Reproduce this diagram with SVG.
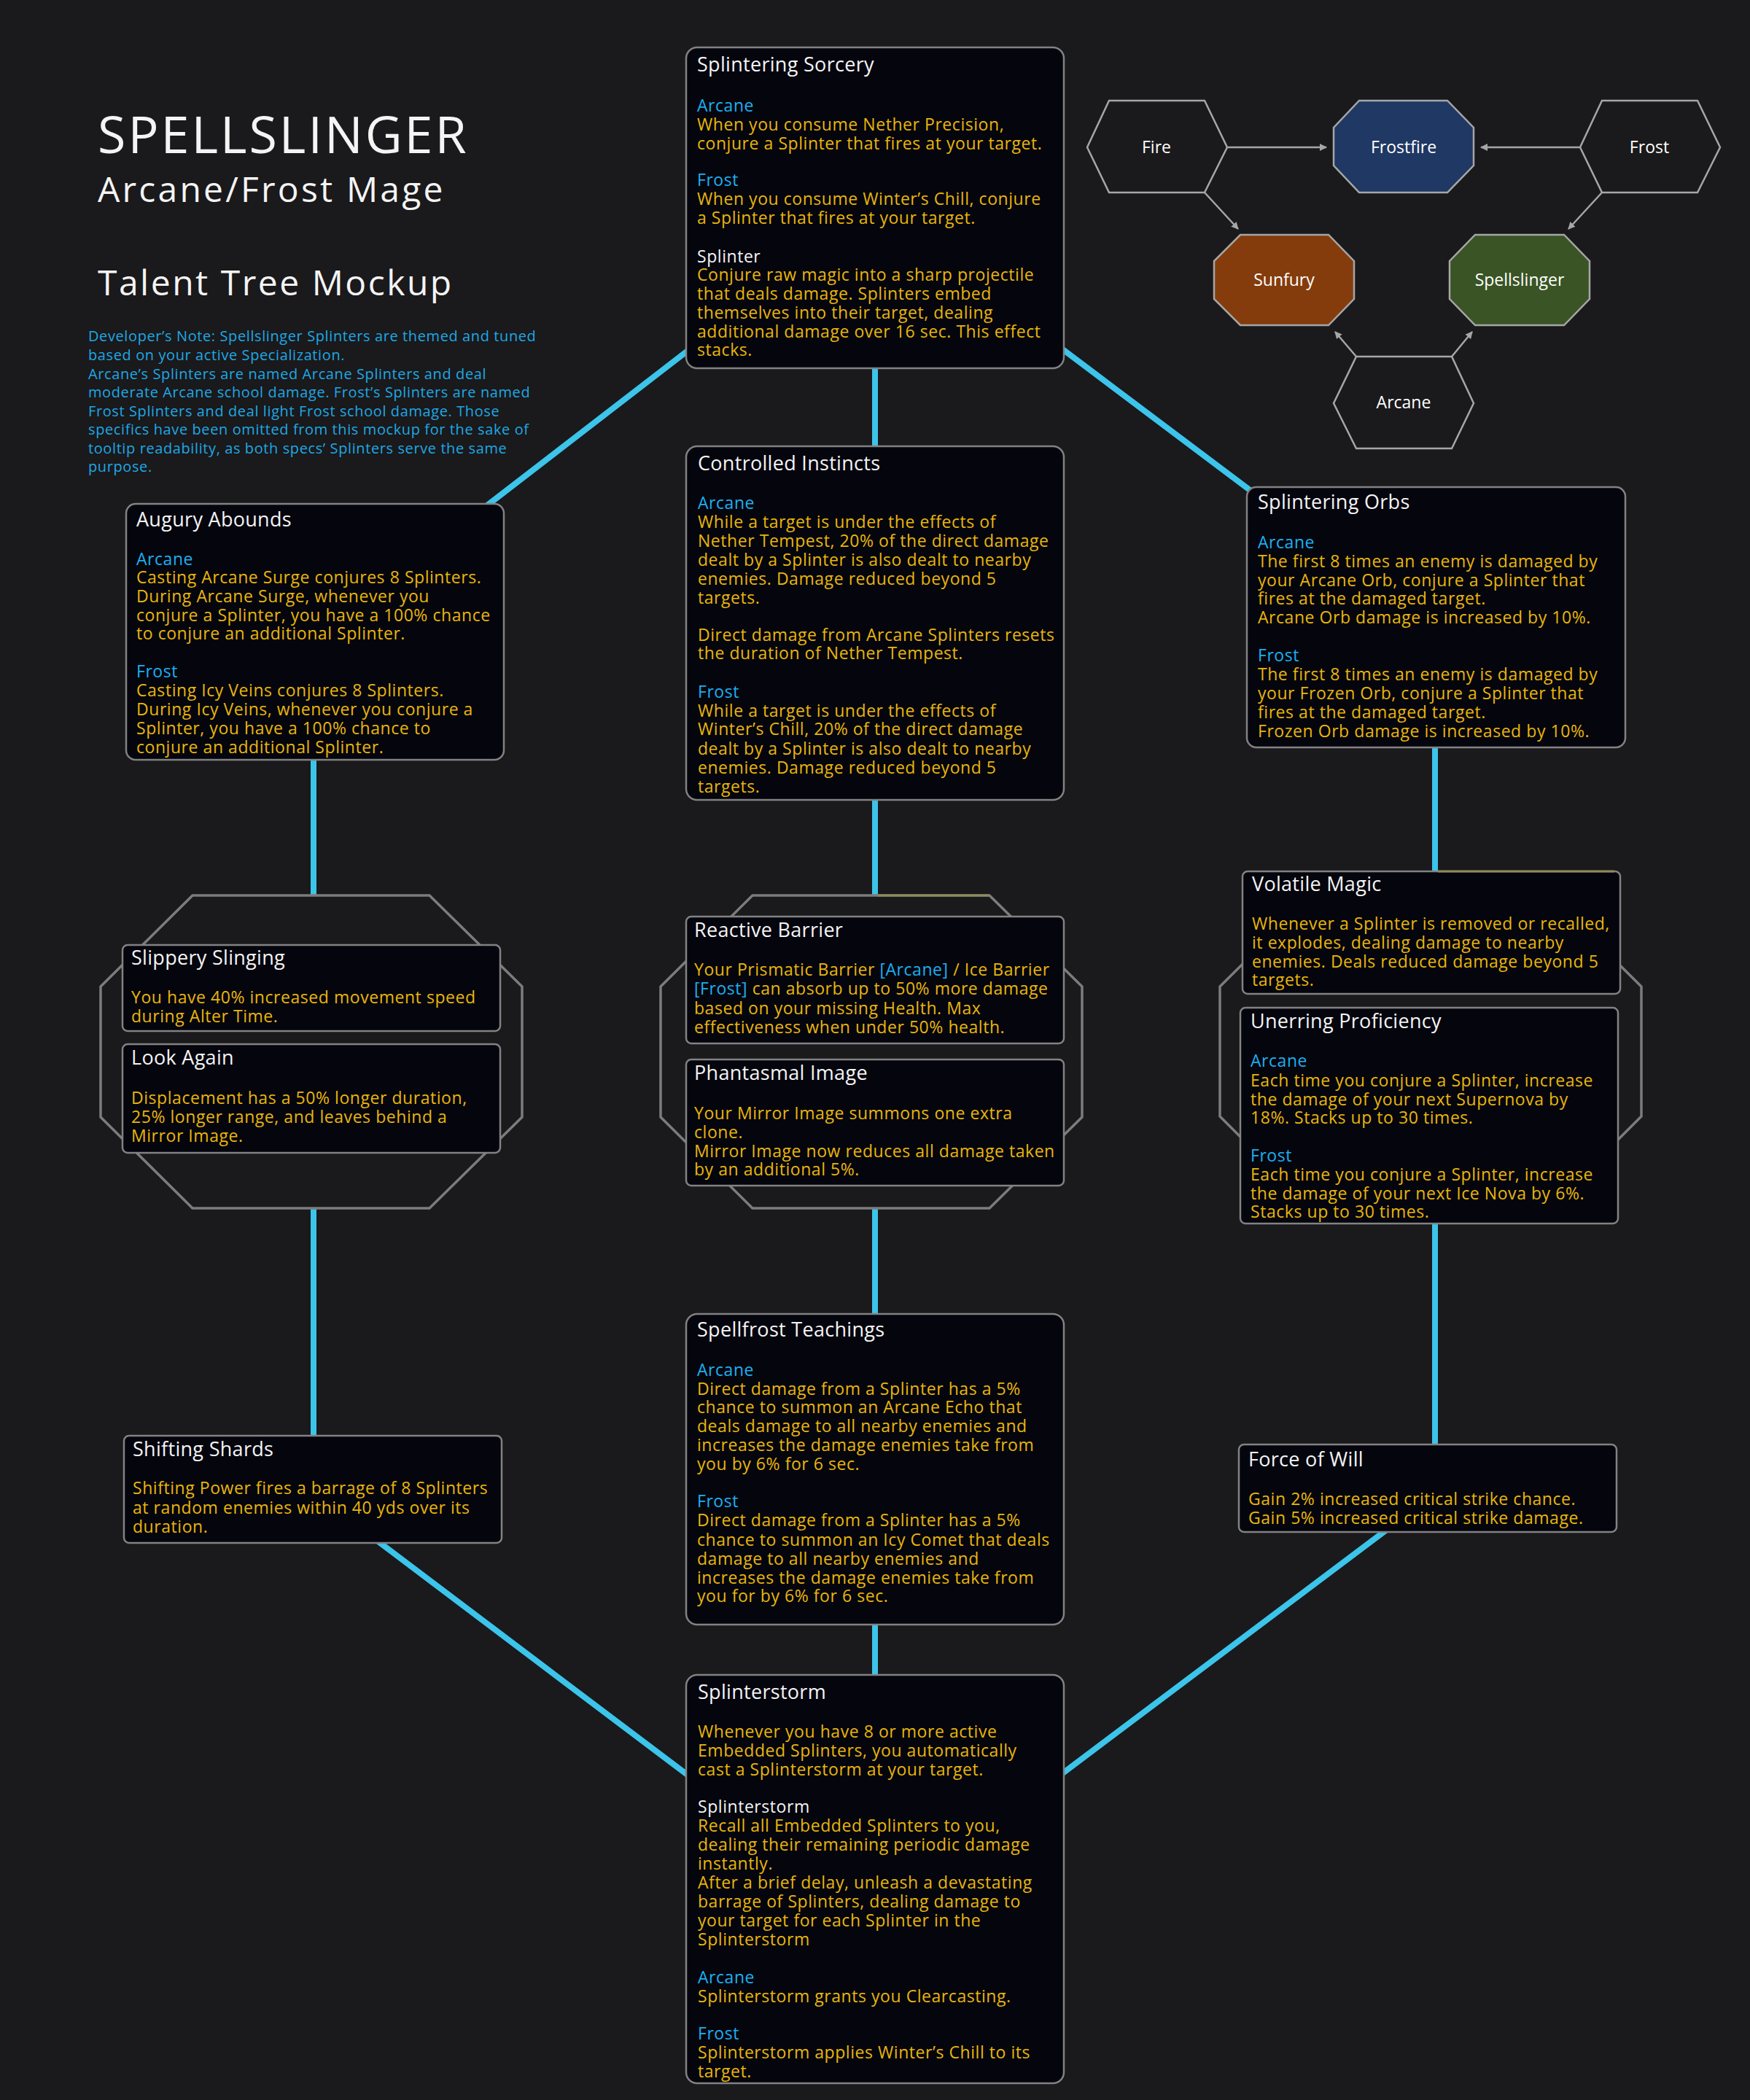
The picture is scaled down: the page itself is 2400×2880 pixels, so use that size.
<svg xmlns="http://www.w3.org/2000/svg" width="2400" height="2880" viewBox="0 0 2400 2880">
<defs>
<style>
.box{fill:#05050e;stroke:#828282;stroke-width:2.5}
.oct{fill:#1a191b;stroke:#7c7c7c;stroke-width:3.5}
.olive{stroke:#8f8a58;stroke-width:3;fill:none}
.conn{stroke:#3cc4ea;stroke-width:8;fill:none}
.t{font-family:'Open Sans','Noto Sans',sans-serif;font-size:27px;letter-spacing:0.3px;fill:#f4f4f4}
.b{font-family:'Open Sans','Noto Sans',sans-serif;font-size:23px;letter-spacing:0.55px;fill:#e8b60b}
.c{fill:#1cb0ee}
.w{fill:#f4f4f4}
.hex{stroke:#a6a6a6;stroke-width:2.5}
.hl{font-family:'Open Sans','Noto Sans',sans-serif;font-size:23px;fill:#ffffff;text-anchor:middle}
.arr{stroke:#a6a6a6;stroke-width:2.5;fill:none;marker-end:url(#ah)}
.hd{font-family:'Open Sans','Noto Sans',sans-serif;fill:#f4f4f4}
.note{font-family:'Open Sans','Noto Sans',sans-serif;font-size:20px;letter-spacing:0.6px;fill:#1ea8e4}
</style>
<marker id="ah" viewBox="0 0 10 10" refX="9" refY="5" markerWidth="4" markerHeight="4" orient="auto" markerUnits="strokeWidth">
<path d="M0,0 L10,5 L0,10 z" fill="#a6a6a6"/>
</marker>
</defs>
<rect x="0" y="0" width="2400" height="2880" fill="#1a191b"/>

<g id="header">
<text class="hd" x="134" y="210" font-size="70" letter-spacing="3">SPELLSLINGER</text>
<text class="hd" x="134" y="277" font-size="48" letter-spacing="3.2">Arcane/Frost Mage</text>
<text class="hd" x="134" y="405" font-size="48" letter-spacing="2.5">Talent Tree Mockup</text>
<text class="note">
<tspan x="121" y="468">Developer’s Note: Spellslinger  Splinters are themed and tuned</tspan>
<tspan x="121" y="494">based on your active Specialization.</tspan>
<tspan x="121" y="520">Arcane’s Splinters are named Arcane Splinters and deal</tspan>
<tspan x="121" y="545">moderate  Arcane school damage. Frost’s Splinters are named</tspan>
<tspan x="121" y="571">Frost Splinters and deal light Frost school damage. Those</tspan>
<tspan x="121" y="596">specifics have been omitted from this mockup for the sake of</tspan>
<tspan x="121" y="622">tooltip readability,  as both specs’ Splinters serve the same</tspan>
<tspan x="121" y="647">purpose.</tspan>
</text>
</g>

<g id="connectors">
<line class="conn" x1="960" y1="468" x2="650" y2="707"/>
<line class="conn" x1="1440" y1="466" x2="1730" y2="684"/>
<line class="conn" x1="500" y1="2100" x2="960" y2="2447"/>
<line class="conn" x1="1915" y1="2088" x2="1440" y2="2445"/>
<line class="conn" x1="1200" y1="490" x2="1200" y2="2310"/>
<line class="conn" x1="430" y1="1030" x2="430" y2="1980"/>
<line class="conn" x1="1968" y1="1015" x2="1968" y2="1990"/>
<line class="arr" x1="1683" y1="202" x2="1819" y2="202"/>
<line class="arr" x1="2166" y1="202" x2="2031" y2="202"/>
<line class="arr" x1="1652" y1="264" x2="1698" y2="314"/>
<line class="arr" x1="2197" y1="264" x2="2151" y2="314"/>
<line class="arr" x1="1860" y1="489" x2="1831" y2="455"/>
<line class="arr" x1="1991" y1="489" x2="2019" y2="455"/>
</g>

<g id="hex-fire">
<polygon class="hex" fill="#1a191b" points="1521,138 1652,138 1683,202 1652,264 1521,264 1491,202"/>
<text class="hl" x="1586" y="210">Fire</text>
</g>
<g id="hex-frostfire">
<polygon class="hex" fill="#1f3864" points="1864,138 1985,138 2021,175 2021,227 1985,264 1864,264 1829,227 1829,175"/>
<text class="hl" x="1925" y="210">Frostfire</text>
</g>
<g id="hex-frost">
<polygon class="hex" fill="#1a191b" points="2197,138 2328,138 2359,202 2328,264 2197,264 2167,202"/>
<text class="hl" x="2262" y="210">Frost</text>
</g>
<g id="hex-sunfury">
<polygon class="hex" fill="#843c0c" points="1701,322 1822,322 1857,358 1857,410 1822,446 1701,446 1665,410 1665,358"/>
<text class="hl" x="1761" y="392">Sunfury</text>
</g>
<g id="hex-spellslinger">
<polygon class="hex" fill="#3a5425" points="2023,322 2145,322 2180,358 2180,410 2145,446 2023,446 1988,410 1988,358"/>
<text class="hl" x="2084" y="392">Spellslinger</text>
</g>
<g id="hex-arcane">
<polygon class="hex" fill="#1a191b" points="1860,489 1991,489 2021,553 1991,615 1860,615 1829,553"/>
<text class="hl" x="1925" y="560">Arcane</text>
</g>

<g id="octagon-left"><polygon class="oct" points="264,1228 589,1228 716,1353 716,1532 589,1657 264,1657 138,1532 138,1353"/></g>
<g id="octagon-center"><polygon class="oct" points="1032,1228 1357,1228 1484,1353 1484,1532 1357,1657 1032,1657 906,1532 906,1353"/>
<line class="olive" x1="1204" y1="1228" x2="1356" y2="1228"/></g>
<g id="octagon-right"><polygon class="oct" points="1799,1228 2125,1228 2251,1353 2251,1531 2125,1657 1799,1657 1673,1531 1673,1353"/></g>

<g id="splintering-sorcery">
<rect class="box" x="941" y="65" width="518" height="440" rx="15"/>
<text class="t" x="956" y="98">Splintering Sorcery</text>
<text class="b">
<tspan class="c" x="956" y="153">Arcane</tspan>
<tspan x="956" y="179">When you consume Nether Precision,</tspan>
<tspan x="956" y="205">conjure a Splinter that fires at your target.</tspan>
<tspan class="c" x="956" y="255">Frost</tspan>
<tspan x="956" y="281">When you consume Winter’s Chill, conjure</tspan>
<tspan x="956" y="307">a Splinter that fires at your target.</tspan>
<tspan class="w" x="956" y="360">Splinter</tspan>
<tspan x="956" y="385">Conjure raw magic into a sharp projectile</tspan>
<tspan x="956" y="411">that deals damage. Splinters embed</tspan>
<tspan x="956" y="437">themselves into their target, dealing</tspan>
<tspan x="956" y="463">additional damage over 16 sec. This effect</tspan>
<tspan x="956" y="488">stacks.</tspan>
</text>
</g>

<g id="augury-abounds">
<rect class="box" x="173" y="691" width="518" height="351" rx="13"/>
<text class="t" x="187" y="722">Augury Abounds</text>
<text class="b">
<tspan class="c" x="187" y="775">Arcane</tspan>
<tspan x="187" y="800">Casting Arcane Surge conjures 8 Splinters.</tspan>
<tspan x="187" y="826">During Arcane Surge, whenever you</tspan>
<tspan x="187" y="852">conjure a Splinter, you have a 100% chance</tspan>
<tspan x="187" y="877">to conjure an additional Splinter.</tspan>
<tspan class="c" x="187" y="929">Frost</tspan>
<tspan x="187" y="955">Casting Icy Veins conjures 8 Splinters.</tspan>
<tspan x="187" y="981">During Icy Veins, whenever you conjure a</tspan>
<tspan x="187" y="1007">Splinter, you have a 100% chance to</tspan>
<tspan x="187" y="1033">conjure an additional Splinter.</tspan>
</text>
</g>

<g id="controlled-instincts">
<rect class="box" x="941" y="612" width="518" height="485" rx="15"/>
<text class="t" x="957" y="645">Controlled Instincts</text>
<text class="b">
<tspan class="c" x="957" y="698">Arcane</tspan>
<tspan x="957" y="724">While a target is under the effects of</tspan>
<tspan x="957" y="750">Nether Tempest, 20% of the direct damage</tspan>
<tspan x="957" y="776">dealt by a Splinter is also dealt to nearby</tspan>
<tspan x="957" y="802">enemies. Damage reduced beyond 5</tspan>
<tspan x="957" y="828">targets.</tspan>
<tspan x="957" y="879">Direct damage from Arcane Splinters resets</tspan>
<tspan x="957" y="904">the duration of Nether Tempest.</tspan>
<tspan class="c" x="957" y="957">Frost</tspan>
<tspan x="957" y="983">While a target is under the effects of</tspan>
<tspan x="957" y="1008">Winter’s Chill, 20% of the direct damage</tspan>
<tspan x="957" y="1035">dealt by a Splinter is also dealt to nearby</tspan>
<tspan x="957" y="1061">enemies. Damage reduced beyond 5</tspan>
<tspan x="957" y="1087">targets.</tspan>
</text>
</g>

<g id="splintering-orbs">
<rect class="box" x="1710" y="668" width="519" height="357" rx="13"/>
<text class="t" x="1725" y="698">Splintering Orbs</text>
<text class="b">
<tspan class="c" x="1725" y="752">Arcane</tspan>
<tspan x="1725" y="778">The first 8 times an enemy is damaged by</tspan>
<tspan x="1725" y="804">your Arcane Orb, conjure a Splinter that</tspan>
<tspan x="1725" y="829">fires at the damaged target.</tspan>
<tspan x="1725" y="855">Arcane Orb damage is increased by 10%.</tspan>
<tspan class="c" x="1725" y="907">Frost</tspan>
<tspan x="1725" y="933">The first 8 times an enemy is damaged by</tspan>
<tspan x="1725" y="959">your Frozen Orb, conjure a Splinter that</tspan>
<tspan x="1725" y="985">fires at the damaged target.</tspan>
<tspan x="1725" y="1011">Frozen Orb damage is increased by 10%.</tspan>
</text>
</g>

<g id="slippery-slinging">
<rect class="box" x="168" y="1296" width="518" height="118" rx="7"/>
<text class="t" x="180" y="1323">Slippery Slinging</text>
<text class="b">
<tspan x="180" y="1376">You have 40% increased movement speed</tspan>
<tspan x="180" y="1402">during Alter Time.</tspan>
</text>
</g>

<g id="look-again">
<rect class="box" x="168" y="1432" width="518" height="149" rx="7"/>
<text class="t" x="180" y="1460">Look Again</text>
<text class="b">
<tspan x="180" y="1514">Displacement has a 50% longer duration,</tspan>
<tspan x="180" y="1540">25% longer range, and leaves behind a</tspan>
<tspan x="180" y="1566">Mirror Image.</tspan>
</text>
</g>

<g id="reactive-barrier">
<rect class="box" x="941" y="1257" width="518" height="174" rx="7"/>
<text class="t" x="952" y="1285">Reactive Barrier</text>
<text class="b">
<tspan x="952" y="1338">Your Prismatic Barrier <tspan class="c">[Arcane]</tspan> / Ice Barrier</tspan>
<tspan x="952" y="1364"><tspan class="c">[Frost]</tspan> can absorb up to 50% more damage</tspan>
<tspan x="952" y="1391">based on your missing Health. Max</tspan>
<tspan x="952" y="1417">effectiveness when under 50% health.</tspan>
</text>
</g>

<g id="phantasmal-image">
<rect class="box" x="941" y="1453" width="518" height="173" rx="7"/>
<text class="t" x="952" y="1481">Phantasmal Image</text>
<text class="b">
<tspan x="952" y="1535">Your Mirror Image summons one extra</tspan>
<tspan x="952" y="1561">clone.</tspan>
<tspan x="952" y="1587">Mirror Image now reduces all damage taken</tspan>
<tspan x="952" y="1612">by an additional 5%.</tspan>
</text>
</g>

<g id="volatile-magic">
<rect class="box" x="1704" y="1195" width="518" height="168" rx="7"/>
<line class="olive" x1="1972" y1="1195" x2="2214" y2="1195"/>
<text class="t" x="1717" y="1222">Volatile Magic</text>
<text class="b">
<tspan x="1717" y="1275">Whenever a Splinter is removed or recalled,</tspan>
<tspan x="1717" y="1301">it explodes, dealing damage to nearby</tspan>
<tspan x="1717" y="1327">enemies. Deals reduced damage beyond 5</tspan>
<tspan x="1717" y="1352">targets.</tspan>
</text>
</g>

<g id="unerring-proficiency">
<rect class="box" x="1701" y="1382" width="518" height="296" rx="7"/>
<text class="t" x="1715" y="1410">Unerring Proficiency</text>
<text class="b">
<tspan class="c" x="1715" y="1463">Arcane</tspan>
<tspan x="1715" y="1490">Each time you conjure a Splinter, increase</tspan>
<tspan x="1715" y="1516">the damage of your next Supernova by</tspan>
<tspan x="1715" y="1541">18%. Stacks up to 30 times.</tspan>
<tspan class="c" x="1715" y="1593">Frost</tspan>
<tspan x="1715" y="1619">Each time you conjure a Splinter, increase</tspan>
<tspan x="1715" y="1645">the damage of your next Ice Nova by 6%.</tspan>
<tspan x="1715" y="1670">Stacks up to 30 times.</tspan>
</text>
</g>

<g id="shifting-shards">
<rect class="box" x="170" y="1969" width="518" height="147" rx="7"/>
<text class="t" x="182" y="1997">Shifting Shards</text>
<text class="b">
<tspan x="182" y="2049">Shifting Power fires a barrage of 8 Splinters</tspan>
<tspan x="182" y="2076">at random enemies within 40 yds over its</tspan>
<tspan x="182" y="2102">duration.</tspan>
</text>
</g>

<g id="spellfrost-teachings">
<rect class="box" x="941" y="1802" width="518" height="426" rx="15"/>
<text class="t" x="956" y="1833">Spellfrost Teachings</text>
<text class="b">
<tspan class="c" x="956" y="1887">Arcane</tspan>
<tspan x="956" y="1913">Direct damage from a Splinter has a 5%</tspan>
<tspan x="956" y="1938">chance to summon an Arcane Echo that</tspan>
<tspan x="956" y="1964">deals damage to all nearby enemies and</tspan>
<tspan x="956" y="1990">increases the damage enemies take from</tspan>
<tspan x="956" y="2016">you by 6% for 6 sec.</tspan>
<tspan class="c" x="956" y="2067">Frost</tspan>
<tspan x="956" y="2093">Direct damage from a Splinter has a 5%</tspan>
<tspan x="956" y="2120">chance to summon an Icy Comet that deals</tspan>
<tspan x="956" y="2146">damage to all nearby enemies and</tspan>
<tspan x="956" y="2172">increases the damage enemies take from</tspan>
<tspan x="956" y="2197">you for by 6% for 6 sec.</tspan>
</text>
</g>

<g id="force-of-will">
<rect class="box" x="1699" y="1981" width="518" height="120" rx="7"/>
<text class="t" x="1712" y="2011">Force of Will</text>
<text class="b">
<tspan x="1712" y="2064">Gain 2% increased critical strike chance.</tspan>
<tspan x="1712" y="2090">Gain 5% increased critical strike damage.</tspan>
</text>
</g>

<g id="splinterstorm">
<rect class="box" x="941" y="2297" width="518" height="560" rx="15"/>
<text class="t" x="957" y="2330">Splinterstorm</text>
<text class="b">
<tspan x="957" y="2383">Whenever you have 8 or more active</tspan>
<tspan x="957" y="2409">Embedded Splinters, you automatically</tspan>
<tspan x="957" y="2435">cast a Splinterstorm at your target.</tspan>
<tspan class="w" x="957" y="2486">Splinterstorm</tspan>
<tspan x="957" y="2512">Recall all Embedded Splinters to you,</tspan>
<tspan x="957" y="2538">dealing their remaining periodic damage</tspan>
<tspan x="957" y="2564">instantly.</tspan>
<tspan x="957" y="2590">After a brief delay, unleash a devastating</tspan>
<tspan x="957" y="2616">barrage of Splinters, dealing damage to</tspan>
<tspan x="957" y="2642">your target for each Splinter in the</tspan>
<tspan x="957" y="2668">Splinterstorm</tspan>
<tspan class="c" x="957" y="2720">Arcane</tspan>
<tspan x="957" y="2746">Splinterstorm grants you Clearcasting.</tspan>
<tspan class="c" x="957" y="2797">Frost</tspan>
<tspan x="957" y="2823">Splinterstorm applies Winter’s Chill to its</tspan>
<tspan x="957" y="2849">target.</tspan>
</text>
</g>
</svg>
